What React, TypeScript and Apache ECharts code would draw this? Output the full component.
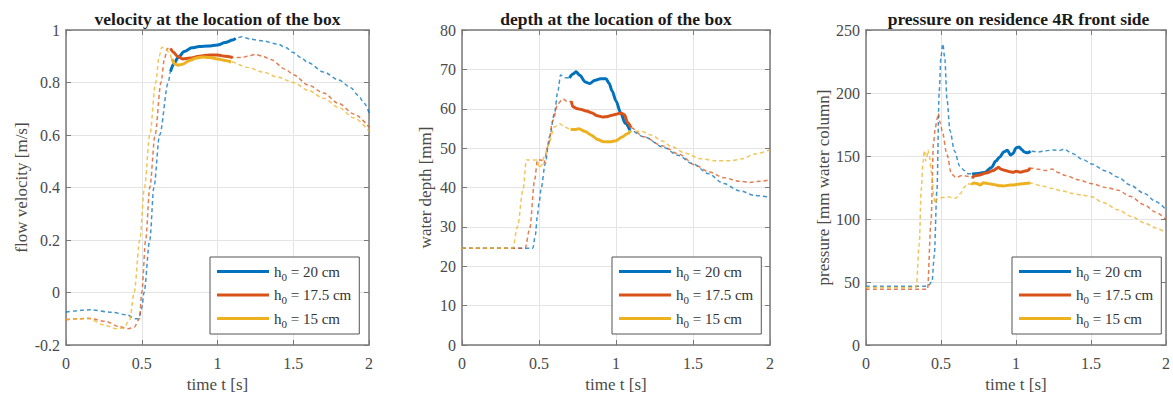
import React, { useEffect, useRef } from "react";
import * as echarts from "echarts";

// ---------- tick / axis labels ----------
const panelTitles = [
  "velocity at the location of the box",
  "depth at the location of the box",
  "pressure on residence 4R front side",
];
const yAxisNames = ["flow velocity [m/s]", "water depth [mm]", "pressure [mm water column]"];
const xAxisName = "time t [s]";
const legendNames = ["h0 = 20 cm", "h0 = 17.5 cm", "h0 = 15 cm"];
const yMins = [-0.2, 0, 0];
const yMaxs = [1, 80, 250];
const yIntervals = [0.2, 10, 50];

// ---------- panel 1: velocity [m/s] ----------
const vel20Pre = [[0,-0.075],[0.1,-0.068],[0.16,-0.066],[0.3,-0.075],[0.4,-0.085],[0.46,-0.1],[0.48,-0.1],[0.5,-0.06],[0.515,0],[0.553,0.2],[0.58,0.4],[0.618,0.6],[0.675,0.8],[0.69,0.842]];
const vel20Exp = [[0.69,0.842],[0.71,0.87],[0.74,0.895],[0.78,0.918],[0.83,0.932],[0.88,0.937],[0.94,0.939],[1.0,0.943],[1.05,0.952],[1.1,0.962],[1.12,0.968]];
const vel20Post = [[1.12,0.968],[1.16,0.974],[1.22,0.965],[1.3,0.958],[1.4,0.946],[1.45,0.933],[1.5,0.914],[1.55,0.895],[1.6,0.875],[1.7,0.84],[1.8,0.81],[1.88,0.78],[1.93,0.75],[1.97,0.72],[2.0,0.685]];
const vel175Pre = [[0,-0.104],[0.08,-0.1],[0.15,-0.098],[0.26,-0.11],[0.35,-0.13],[0.41,-0.138],[0.45,-0.132],[0.485,-0.1],[0.5,0],[0.526,0.2],[0.553,0.4],[0.588,0.6],[0.627,0.8],[0.65,0.89],[0.669,0.93],[0.69,0.93]];
const vel175Exp = [[0.69,0.93],[0.71,0.915],[0.735,0.9],[0.77,0.89],[0.82,0.893],[0.88,0.9],[0.95,0.905],[1.0,0.905],[1.05,0.9],[1.1,0.895]];
const vel175Post = [[1.1,0.895],[1.16,0.895],[1.2,0.9],[1.25,0.907],[1.3,0.9],[1.35,0.888],[1.45,0.85],[1.5,0.83],[1.6,0.79],[1.7,0.76],[1.8,0.72],[1.9,0.68],[2.0,0.63]];
const vel15Pre = [[0,-0.104],[0.08,-0.1],[0.15,-0.1],[0.26,-0.125],[0.33,-0.138],[0.38,-0.135],[0.42,-0.105],[0.45,0],[0.487,0.2],[0.518,0.4],[0.553,0.6],[0.592,0.8],[0.615,0.9],[0.632,0.934],[0.655,0.93],[0.68,0.915],[0.7,0.89]];
const vel15Exp = [[0.7,0.89],[0.72,0.87],[0.74,0.866],[0.77,0.87],[0.82,0.885],[0.86,0.893],[0.9,0.897],[0.95,0.895],[1.0,0.89],[1.05,0.884],[1.09,0.878]];
const vel15Post = [[1.09,0.878],[1.2,0.857],[1.3,0.84],[1.4,0.82],[1.5,0.8],[1.6,0.77],[1.7,0.74],[1.8,0.705],[1.9,0.665],[2.0,0.614]];

// ---------- panel 2: depth [mm] ----------
const dep20Pre = [[0,24.6],[0.46,24.6],[0.476,27.9],[0.49,33],[0.5,36],[0.515,40],[0.54,46],[0.569,53],[0.6,58.75],[0.623,64.6],[0.64,68.6],[0.666,67.9],[0.698,67.8]];
const dep20Exp = [[0.698,67.8],[0.72,68.8],[0.74,69.4],[0.765,68.5],[0.8,66.8],[0.83,66.4],[0.86,67.2],[0.9,67.6],[0.935,67.6],[0.955,66.5],[0.975,64.5],[1.0,62],[1.03,59],[1.06,56.3],[1.09,54.6]];
const dep20Post = [[1.09,54.6],[1.18,52.9],[1.31,50.2],[1.4,48.2],[1.5,46],[1.6,43.5],[1.7,41],[1.8,39.2],[1.9,38],[2.0,37.5]];
const dep175Pre = [[0,24.6],[0.41,24.6],[0.44,29.6],[0.472,42],[0.49,47],[0.515,47],[0.53,46],[0.558,50.4],[0.59,57],[0.623,61.3],[0.655,62.5],[0.688,61.7],[0.71,61.9]];
const dep175Exp = [[0.71,61.9],[0.72,60.5],[0.75,60],[0.774,59.8],[0.81,59.4],[0.84,59],[0.88,58.2],[0.914,57.9],[0.94,58],[0.968,58.3],[1.0,58.6],[1.03,58.9],[1.055,58.5],[1.075,56.5],[1.097,55.2]];
const dep175Post = [[1.097,55.2],[1.18,52.9],[1.3,50.6],[1.4,48.6],[1.53,45.4],[1.6,44],[1.7,42.5],[1.8,41.6],[1.87,41.3],[1.94,41.6],[2.0,42]];
const dep15Pre = [[0,24.6],[0.33,24.6],[0.36,30],[0.397,39.6],[0.418,47],[0.49,47],[0.5,45],[0.515,45.5],[0.535,48],[0.558,50.4],[0.6,55.4],[0.634,56.2],[0.666,55.4],[0.705,54.8]];
const dep15Exp = [[0.705,54.8],[0.73,54.7],[0.76,54.9],[0.8,54.2],[0.84,53.3],[0.88,52.2],[0.92,51.6],[0.96,51.6],[1.0,51.9],[1.04,52.8],[1.07,53.6],[1.093,54.3]];
const dep15Post = [[1.093,54.3],[1.16,54.3],[1.23,53.3],[1.3,51.8],[1.36,50.4],[1.45,48.7],[1.55,47.3],[1.65,46.8],[1.75,46.8],[1.82,47.3],[1.9,48.5],[2.0,49.6]];

// ---------- panel 3: pressure [mm water column] ----------
const pre20Pre = [[0,46.7],[0.41,46.7],[0.44,50],[0.455,71],[0.473,123],[0.488,201],[0.5,229],[0.512,239],[0.525,228],[0.54,195],[0.56,170],[0.59,154],[0.625,142],[0.656,138.4],[0.68,136],[0.707,135.8]];
const pre20Exp = [[0.707,135.8],[0.73,136],[0.76,136.4],[0.79,137],[0.836,140.8],[0.866,146],[0.89,149],[0.92,153.3],[0.942,154.6],[0.964,150.7],[0.98,152],[1.0,156.4],[1.02,157.2],[1.04,155],[1.053,153.3],[1.075,152.5],[1.097,153.8]];
const pre20Post = [[1.097,153.8],[1.15,153.2],[1.2,154.2],[1.25,154.8],[1.29,154.3],[1.32,155.5],[1.374,152],[1.45,147],[1.505,143.6],[1.6,138],[1.68,133.2],[1.76,127],[1.856,120.3],[1.93,114],[2.0,107.3]];
const pre175Pre = [[0,44.2],[0.41,44.2],[0.433,97],[0.45,160],[0.462,172],[0.473,179],[0.481,183.7],[0.495,176],[0.508,169.7],[0.54,151],[0.57,135.6],[0.6,133],[0.641,134.5],[0.685,133.8],[0.707,132.7]];
const pre175Exp = [[0.707,132.7],[0.73,134.5],[0.76,135],[0.8,136.5],[0.849,138.4],[0.87,140],[0.882,141],[0.9,139.5],[0.93,138.5],[0.96,137.5],[0.98,137.1],[1.0,137.8],[1.03,137.2],[1.06,138],[1.08,138.5],[1.094,140.5]];
const pre175Post = [[1.094,140.5],[1.15,139.5],[1.2,138.4],[1.24,139.7],[1.28,137],[1.33,134.5],[1.42,131],[1.505,128],[1.6,125],[1.68,122.9],[1.76,118],[1.856,111.2],[1.93,105.5],[2.0,99.5]];
const pre15Pre = [[0,45.7],[0.335,45.7],[0.355,80],[0.368,123],[0.38,145],[0.39,154.5],[0.398,146],[0.405,149],[0.413,155],[0.422,150],[0.438,135.8],[0.45,120],[0.46,112.5],[0.477,116.4],[0.51,117],[0.543,117.7],[0.575,117],[0.597,116.4],[0.63,120.3],[0.655,125],[0.674,128],[0.702,127.5]];
const pre15Exp = [[0.702,127.5],[0.72,128.6],[0.74,128.2],[0.76,127],[0.783,128.8],[0.8,128.4],[0.83,127.8],[0.86,127.2],[0.89,126.4],[0.915,126.2],[0.95,126.8],[0.98,127],[1.01,127.5],[1.046,128],[1.07,128.3],[1.094,128.6]];
const pre15Post = [[1.094,128.6],[1.17,126.3],[1.24,124.2],[1.31,122.2],[1.374,120.3],[1.44,119],[1.505,117.7],[1.58,113],[1.68,107.3],[1.77,102],[1.856,96.9],[1.93,93],[2.0,89]];

const colors = ["#0072BD", "#D95319", "#EDB120"];
const panelCurves = [
  [[vel20Pre, vel20Exp, vel20Post], [vel175Pre, vel175Exp, vel175Post], [vel15Pre, vel15Exp, vel15Post]],
  [[dep20Pre, dep20Exp, dep20Post], [dep175Pre, dep175Exp, dep175Post], [dep15Pre, dep15Exp, dep15Post]],
  [[pre20Pre, pre20Exp, pre20Post], [pre175Pre, pre175Exp, pre175Post], [pre15Pre, pre15Exp, pre15Post]],
];

// ---------- layout ----------
const gridLefts = [66, 462, 866];
const gridWidths = [303, 308, 305];
const gridTop = 30;
const gridHeight = 321;
const yNameGaps = [36, 28, 34];
const legendLefts = [210, 612, 1012];

const FONT = "Liberation Serif";
const AXIS_COLOR = "#7a7a7a";
const TEXT_COLOR = "#4a4a4a";

function buildOption() {
  const grid: any[] = [];
  const xAxis: any[] = [];
  const yAxis: any[] = [];
  const series: any[] = [];
  const title: any[] = [];
  const legend: any[] = [];

  for (let p = 0; p < 3; p++) {
    grid.push({ left: gridLefts[p], top: gridTop, width: gridWidths[p], height: gridHeight, containLabel: false });
    const tickStyle = { show: true, inside: true, length: 5, lineStyle: { color: AXIS_COLOR, width: 1 } };
    const lineStyle = { show: true, onZero: false, lineStyle: { color: AXIS_COLOR, width: 1.5 } };
    xAxis.push({
      type: "value", gridIndex: p, min: 0, max: 2, interval: 0.5, position: "bottom",
      axisLine: lineStyle, axisTick: tickStyle,
      axisLabel: { color: TEXT_COLOR, fontFamily: FONT, fontSize: 16, margin: 10 },
      splitLine: { show: true, lineStyle: { color: "#e4e4e4", width: 1 } },
      name: xAxisName, nameLocation: "middle", nameGap: 31,
      nameTextStyle: { color: TEXT_COLOR, fontFamily: FONT, fontSize: 17 },
    });
    xAxis.push({
      type: "value", gridIndex: p, min: 0, max: 2, interval: 0.5, position: "top",
      axisLine: lineStyle, axisTick: tickStyle, axisLabel: { show: false }, splitLine: { show: false },
    });
    yAxis.push({
      type: "value", gridIndex: p, min: yMins[p], max: yMaxs[p], interval: yIntervals[p], position: "left",
      axisLine: lineStyle, axisTick: tickStyle,
      axisLabel: { color: TEXT_COLOR, fontFamily: FONT, fontSize: 16, margin: 6 },
      splitLine: { show: true, lineStyle: { color: "#e4e4e4", width: 1 } },
      name: yAxisNames[p], nameLocation: "middle", nameGap: yNameGaps[p],
      nameTextStyle: { color: TEXT_COLOR, fontFamily: FONT, fontSize: 17 },
    });
    yAxis.push({
      type: "value", gridIndex: p, min: yMins[p], max: yMaxs[p], interval: yIntervals[p], position: "right",
      axisLine: lineStyle, axisTick: tickStyle, axisLabel: { show: false }, splitLine: { show: false },
    });

    title.push({
      text: panelTitles[p],
      left: gridLefts[p] + gridWidths[p] / 2,
      top: 10,
      textAlign: "center",
      padding: 0,
      textStyle: { fontFamily: FONT, fontSize: 17.5, fontWeight: "bold", color: "#1a1a1a" },
    });

    panelCurves[p].forEach((curve, i) => {
      const [pre, exp, post] = curve;
      series.push({
        type: "line", name: `dash-${p}-${i}`, xAxisIndex: p * 2, yAxisIndex: p * 2,
        data: [...pre, ...exp, ...post], showSymbol: false, symbol: "none",
        smooth: 0.3, smoothMonotone: "x", color: colors[i], z: 2,
        lineStyle: { color: colors[i], width: 1.5, type: [4, 3], opacity: 0.75 },
        silent: true,
      });
    });
    panelCurves[p].forEach((curve, i) => {
      const exp = curve[1];
      series.push({
        type: "line", name: legendNames[i], xAxisIndex: p * 2, yAxisIndex: p * 2,
        data: exp, showSymbol: false, symbol: "none",
        smooth: 0.3, smoothMonotone: "x", color: colors[i], z: 3,
        lineStyle: { color: colors[i], width: 3 },
        silent: true,
      });
    });

    legend.push({
      data: legendNames,
      orient: "vertical",
      left: legendLefts[p],
      top: 257,
      padding: [4, 8, 5, 7],
      itemGap: 2.5,
      itemWidth: 52,
      itemHeight: 3,
      icon: "rect",
      borderColor: "#555",
      borderWidth: 1,
      backgroundColor: "#fff",
      selectedMode: false,
      formatter: (name: string) => `{h|h}{s|0}{t|${name.slice(2)}}`,
      textStyle: {
        color: "#333",
        fontFamily: FONT,
        fontSize: 15,
        rich: {
          h: { fontFamily: FONT, fontSize: 15, color: "#333", lineHeight: 20 },
          s: { fontFamily: FONT, fontSize: 11, color: "#333", lineHeight: 12, padding: [10, 0, 0, 0] },
          t: { fontFamily: FONT, fontSize: 15, color: "#333", lineHeight: 20 },
        },
      },
    });
  }

  return {
    animation: false,
    backgroundColor: "#fff",
    title, grid, xAxis, yAxis, series, legend,
  };
}

export default function App() {
  const ref = useRef<HTMLDivElement>(null);
  useEffect(() => {
    if (!ref.current) return;
    const chart = echarts.init(ref.current, undefined, { renderer: "svg" });
    chart.setOption(buildOption() as any);
    return () => chart.dispose();
  }, []);
  return (
    <div
      ref={ref}
      style={{ position: "fixed", left: 0, top: 0, width: 1173, height: 398, background: "#fff" }}
    />
  );
}
